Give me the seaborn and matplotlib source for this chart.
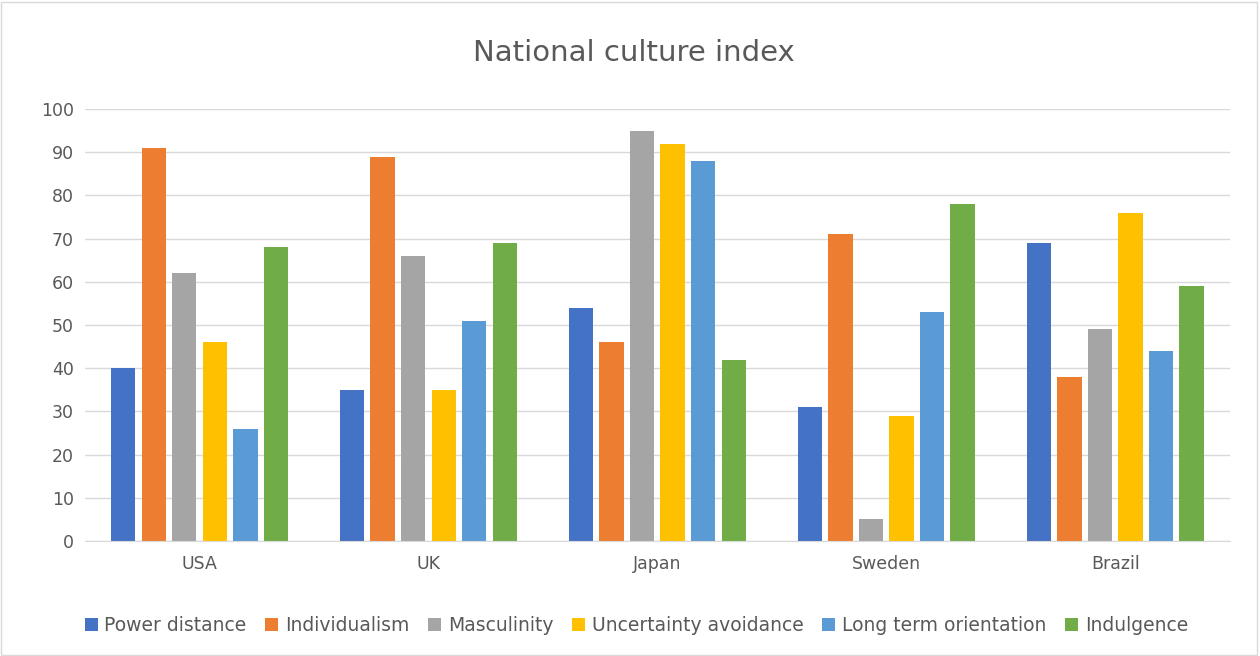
import pandas as pd
import seaborn as sns
import matplotlib.pyplot as plt
from matplotlib.patches import Rectangle

countries = ['USA', 'UK', 'Japan', 'Sweden', 'Brazil']
dimensions = ['Power distance', 'Individualism', 'Masculinity',
              'Uncertainty avoidance', 'Long term orientation', 'Indulgence']
power_distance = [40, 35, 54, 31, 69]
individualism = [91, 89, 46, 71, 38]
masculinity = [62, 66, 95, 5, 49]
uncertainty = [46, 35, 92, 29, 76]
long_term = [26, 51, 88, 53, 44]
indulgence = [68, 69, 42, 78, 59]

colors = ['#4472C4', '#ED7D31', '#A5A5A5', '#FFC000', '#5B9BD5', '#70AD47']

series = [power_distance, individualism, masculinity, uncertainty, long_term, indulgence]
rows = []
for dim, vals in zip(dimensions, series):
    for c, v in zip(countries, vals):
        rows.append({'Country': c, 'Dimension': dim, 'Value': v})
df = pd.DataFrame(rows)

sns.set_style('white')
plt.rcParams['font.family'] = ['DejaVu Sans']

fig = plt.figure(figsize=(12.6, 6.56), dpi=100)
ax = fig.add_axes([0.0675, 0.1753, 0.9085, 0.6585])

sns.barplot(data=df, x='Country', y='Value', hue='Dimension',
            hue_order=dimensions, order=countries, palette=colors,
            width=0.8, gap=0.2, saturation=1, ax=ax, errorbar=None,
            linewidth=0)

ax.set_ylim(0, 100)
ax.set_yticks(range(0, 101, 10))
ax.set_xlim(-0.5, 4.5)
ax.yaxis.grid(True, color='#D9D9D9', linewidth=1)
ax.set_axisbelow(True)
for s in ['top', 'right', 'left']:
    ax.spines[s].set_visible(False)
ax.spines['bottom'].set_color('#D9D9D9')
ax.tick_params(axis='both', length=0, colors='#595959', labelsize=12.5)
ax.tick_params(axis='x', pad=10)
ax.tick_params(axis='y', pad=8)
ax.set_xlabel('')
ax.set_ylabel('')

fig.suptitle('National culture index', x=0.503, y=0.94, fontsize=21, color='#595959')

handles, labels = ax.get_legend_handles_labels()
ax.legend_.remove()
fig.legend(handles, labels, loc='center', bbox_to_anchor=(0.505, 0.047), ncol=6,
           frameon=False, fontsize=13.5, handlelength=0.7, handleheight=0.7,
           handletextpad=0.35, columnspacing=1.0, labelcolor='#595959')

fig.add_artist(Rectangle((0.001, 0.002), 0.997, 0.995, transform=fig.transFigure,
                         fill=False, edgecolor='#D9D9D9', linewidth=1))

fig.savefig('out.png', dpi=100)
